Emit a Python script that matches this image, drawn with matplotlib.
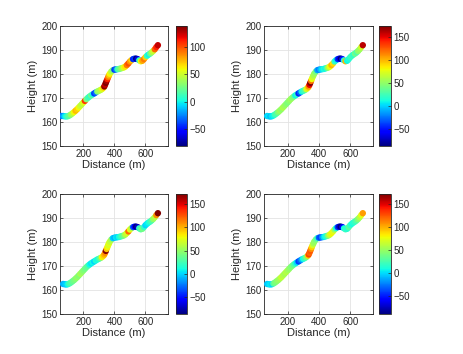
import numpy as np
import matplotlib
matplotlib.use('Agg')
import matplotlib.pyplot as plt

plt.rcParams['font.family'] = ['Liberation Sans', 'DejaVu Sans']

# path along the track (shared by all four panels)
distance = [58, 70, 80, 90, 100, 110, 120, 130, 140, 150, 160, 170, 180, 190, 200,
            210, 220, 230, 240, 250, 260, 270, 280, 290, 300, 310, 320, 330,
            335, 340, 345, 350, 355, 360, 365, 370,
            380, 390, 400, 410, 420, 430, 440, 450, 460, 470, 480, 490, 500,
            510, 520, 530, 540, 550, 560, 570, 580, 590, 600, 610, 620, 630,
            640, 650, 660, 670, 680]
height = [162.5, 162.5, 162.4, 162.3, 162.4, 162.7, 163.1, 163.6, 164.1, 164.7,
          165.3, 166.0, 166.7, 167.4, 168.1, 168.8, 169.5, 170.1, 170.6, 171.1,
          171.5, 171.9, 172.3, 172.7, 173.0, 173.3, 173.7, 174.3,
          174.8, 175.5, 176.3, 177.1, 177.9, 178.7, 179.4, 180.1,
          181.0, 181.6, 181.8, 181.9, 182.0, 182.1, 182.3, 182.5, 182.7, 183.1,
          183.7, 184.4, 185.2, 185.8, 186.2, 186.4, 186.4, 186.2, 185.7, 185.3,
          185.5, 186.2, 187.0, 187.6, 188.1, 188.5, 189.0, 189.6, 190.3, 191.2,
          192.0]

# colour values of each panel
vals1 = [-30, -20, -5, 5, 15, 20, 35, 45, 60, 75, 70, 60, 50, 45, 55,
         105, 30, 15, 10, 25, 5, -40, -30, 30, 40, 45, 55, 70,
         135, 125, 138, 130, 110, 90, 75, 60,
         45, 30, -40, -30, 10, 20, 30, 40, 55, 65, 90, 100, 85,
         70, -45, -40, -80, -60, 10, 60, 80, 90, 70, 10, 0, 20,
         40, 50, 95, 110, 125]
vals2 = [5, 0, 5, -5, 5, 10, 25, 30, 45, 55, 50, 60, 55, 50, 45,
         50, 55, 50, 40, 10, 20, -45, -30, 10, 20, 30, 70, 90,
         110, 150, 174, 120, 80, 70, 60, 55,
         40, -10, -20, -5, 5, 15, 10, 30, 60, 80, 100, 90, 20,
         10, -40, -60, -86, -50, 20, 100, 10, 15, 20, 25, 20, 40,
         30, 50, 55, 70, 160]
vals3 = [-5, -10, -5, 0, 10, 25, 30, 35, 40, 45, 50, 45, 55, 50, 45,
         40, 35, 30, 10, 5, 10, 0, 15, 10, 20, 40, 80, 90,
         100, 110, 170, 95, 80, 70, 75, 65,
         55, 0, -10, 5, 0, 10, 20, 30, 40, 60, 70, 120, 75,
         60, -30, -60, -87, -70, 20, 30, 40, 20, 0, 5, 10, 20,
         30, 50, 60, 110, 172]
vals4 = [0, -5, 0, 5, 0, 30, 40, 45, 50, 55, 65, 60, 55, 60, 55,
         50, 45, 40, 30, 15, 0, -40, -30, -10, 10, 20, 40, 90,
         130, 120, 125, 110, 90, 70, 55, 50,
         40, 20, -30, -40, -20, 0, 10, 20, 50, 70, 80, 75, 50,
         10, -40, -70, -88, -60, 10, 20, 15, 30, 20, 10, 15, 20,
         30, 45, 60, 75, 105]

clims = [(-80, 138), (-86, 174), (-87, 172), (-88, 172)]
all_vals = [vals1, vals2, vals3, vals4]
starts = [0, 1, 1, 1]

W, H = 463, 354
fig = plt.figure(figsize=(W / 100, H / 100), dpi=100)

ax_boxes = [(60, 26, 168, 146), (264, 26, 373, 146),
            (60, 194, 168, 314), (264, 194, 373, 314)]
cb_boxes = [(176, 187), (379, 391), (176, 187), (379, 391)]

dark = '#262626'

for k in range(4):
    l, t, r, b = ax_boxes[k]
    ax = fig.add_axes([l / W, (H - b) / H, (r - l) / W, (b - t) / H])
    s = starts[k]
    vmin, vmax = clims[k]
    sc = ax.scatter(distance[s:], height[s:], c=all_vals[k][s:], cmap='jet',
                    vmin=vmin, vmax=vmax, s=21, linewidths=0, zorder=3)
    ax.set_xlim(50, 745)
    ax.set_ylim(150, 200)
    ax.set_xticks([200, 400, 600])
    ax.set_yticks([150, 160, 170, 180, 190, 200])
    ax.grid(True, color='#e3e3e3', linewidth=0.6)
    ax.set_axisbelow(True)
    ax.tick_params(direction='in', length=2, width=0.5, labelsize=7,
                   colors=dark, top=True, right=True, pad=2)
    for sp in ax.spines.values():
        sp.set_color(dark)
        sp.set_linewidth(0.6)
    ax.set_xlabel('Distance (m)', fontsize=8, color=dark, labelpad=1)
    ax.set_ylabel('Height (m)', fontsize=8, color=dark, labelpad=2)

    c0, c1 = cb_boxes[k]
    cax = fig.add_axes([c0 / W, (H - b) / H, (c1 - c0) / W, (b - t) / H])
    cb = fig.colorbar(sc, cax=cax)
    if vmax > 150:
        cb.set_ticks([-50, 0, 50, 100, 150])
    else:
        cb.set_ticks([-50, 0, 50, 100])
    cb.outline.set_edgecolor(dark)
    cb.outline.set_linewidth(0.6)
    cax.tick_params(direction='in', length=2, width=0.5, labelsize=7,
                    colors=dark, pad=2)

fig.savefig('out.png', dpi=100)
